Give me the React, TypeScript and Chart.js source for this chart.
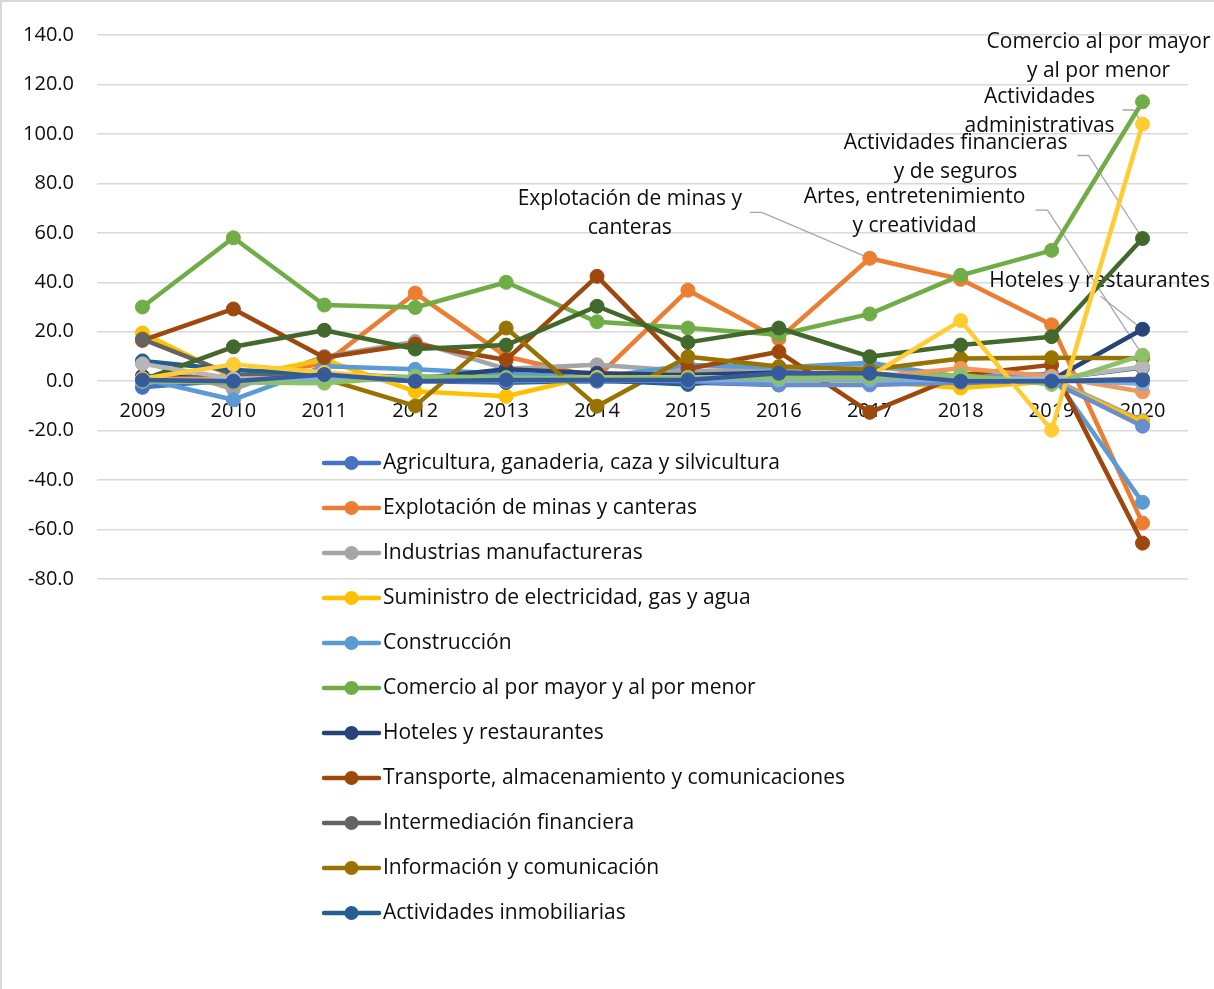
import { useEffect, useRef } from "react";
import { Chart, registerables } from "chart.js";

Chart.register(...registerables);

const FONT = "'Open Sans', Lato, sans-serif";
const TEXT_SIZE = 21;
const TICK_SIZE = 20;
const INK = "#0d0d0d";

// Years on the category axis
const years = ["2009", "2010", "2011", "2012", "2013", "2014", "2015", "2016", "2017", "2018", "2019", "2020"];

// Y axis range and step
const yMin = -80;
const yMax = 140;
const yStep = 20;

// Annual variation (%) by economic activity
const agricultura = [-2.5, 0.5, 1.5, 0, -0.5, 0, -0.5, -1.5, -1, -1, -0.5, -17];
const explotacion = [1, 2, 7, 35.6, 10, 1.5, 36.8, 17.1, 49.7, 41.2, 22.8, -57.4];
const industrias = [8, -3.3, 10, 16, 5, 6.6, 4, 5, 6, 2, 1, -16];
const suministro = [19.5, 1.5, 8.7, -4.1, -6.1, 2.5, 1, 0.5, 0, -2.8, 0, -16.5];
const construccion = [1, -7.5, 6, 4.8, 3, 1.5, 6.5, 5.5, 7.5, 1.5, 3, -49];
const comercio = [30, 58, 30.8, 29.8, 40, 24, 21.5, 18.8, 27.2, 42.8, 52.9, 113];
const hoteles = [2, 1, 2, 1, 4.8, 3.2, 2.5, 3.5, 3, 1, 0.5, 21];
const transporte = [16.5, 29.2, 9.6, 15, 8.6, 42.4, 5, 11.9, -12.6, 2.5, 6.6, -65.5];
const intermediacion = [17, 2.5, 2, 1, 1, 1, 1, 1.5, 1.5, 0.5, 0, 1];
const informacion = [0, -0.5, 1, -10, 21.5, -10.1, 9.9, 5.9, 4.6, 9.2, 9.5, 9.3];
const inmobiliarias = [8.2, 4.5, 3, 1.5, -0.5, 0.5, -1.3, 2.5, 2, 0, 1, 5.5];
const financieras = [0.5, 13.9, 20.6, 13, 14.6, 30.3, 15.7, 21.5, 9.9, 14.6, 18, 57.7];
const profesionales = [0, 0.5, 1, 0.5, 0, 0.5, 0, -1.5, -1.5, -0.5, 0, -18.2];
const adminPublica = [1, 1, 1.5, 1, 1, 1, 1.5, 1, 1.5, 5.2, 2, -4.3];
const ensenanza = [7, 1, 1.5, 1.5, 1, 1, 1.5, 1.5, 1, 1, 1, 5.8];
const administrativas = [1, 6.8, 3.5, 1, 1, 1.5, 1.5, 1, 2, 24.5, -19.8, 104];
const salud = [0, 0, 1, 0.5, 0.5, 0.5, 0.5, 0.5, 0.5, 0.5, 0.5, -1];
const artes = [0, -0.5, -0.8, 2, 1.5, 1, 1.5, 1.2, 1.5, 2.5, -1.3, 10.5];
const otros = [0.5, 0, 2.7, 0, 0.5, 0.5, 0.5, 3.2, 3.2, 0, 0, 0.5];

// Series names, in drawing order
const seriesNames = [
  "Agricultura, ganaderia, caza y silvicultura",
  "Explotación de minas y canteras",
  "Industrias manufactureras",
  "Suministro de electricidad, gas y agua",
  "Construcción",
  "Comercio al por mayor y al por menor",
  "Hoteles y restaurantes",
  "Transporte, almacenamiento y comunicaciones",
  "Intermediación financiera",
  "Información y comunicación",
  "Actividades inmobiliarias",
  "Actividades financieras y de seguros",
  "Actividades profesionales",
  "Administración pública",
  "Enseñanza",
  "Actividades administrativas",
  "Salud",
  "Artes, entretenimiento y creatividad",
  "Otras actividades de servicios",
];

const seriesValues = [
  agricultura, explotacion, industrias, suministro, construccion, comercio,
  hoteles, transporte, intermediacion, informacion, inmobiliarias, financieras,
  profesionales, adminPublica, ensenanza, administrativas, salud, artes, otros,
];

const seriesColors = [
  "#4472C4", "#ED7D31", "#A5A5A5", "#FFC000", "#5B9BD5", "#70AD47",
  "#264478", "#9E480E", "#636363", "#997300", "#255E91", "#43682B",
  "#698ED0", "#F1975A", "#B7B7B7", "#FFCD33", "#7CAFDD", "#8CC168",
  "#365B9D",
];

// How many series are listed in the legend box
const legendCount = 11;

// Series-name callouts: text lines, offset of first line from the point, leader polyline
const callouts = [
  { series: "Comercio al por mayor y al por menor", year: "2020", lines: ["Comercio al por mayor", "y al por menor"], dx: -44, dy: -60, leader: null },
  { series: "Actividades administrativas", year: "2020", lines: ["Actividades", "administrativas"], dx: -103, dy: -27, leader: [[-20, -14], [-9, -14]] },
  { series: "Actividades financieras y de seguros", year: "2020", lines: ["Actividades financieras", "y de seguros"], dx: -187, dy: -95, leader: [[-65, -83], [-54, -83]] },
  { series: "Artes, entretenimiento y creatividad", year: "2020", lines: ["Artes, entretenimiento", "y creatividad"], dx: -228, dy: -158, leader: [[-107, -145], [-95, -145]] },
  { series: "Hoteles y restaurantes", year: "2020", lines: ["Hoteles y restaurantes"], dx: -43, dy: -48, leader: [[-42, -33]] },
  { series: "Explotación de minas y canteras", year: "2017", lines: ["Explotación de minas y", "canteras"], dx: -240, dy: -59, leader: [[-120, -46], [-108, -46]] },
];

const calloutPlugin = {
  id: "calloutPlugin",
  beforeDatasetsDraw(chart: any) {
    const ctx = chart.ctx;
    ctx.save();
    ctx.font = `${TEXT_SIZE}px ${FONT}`;
    ctx.textAlign = "center";
    ctx.textBaseline = "middle";
    for (const c of callouts) {
      const di = seriesNames.indexOf(c.series);
      const pi = years.indexOf(c.year);
      const pt = chart.getDatasetMeta(di).data[pi];
      if (!pt) continue;
      const px = pt.x;
      const py = pt.y;
      if (c.leader) {
        ctx.strokeStyle = "#A6A6A6";
        ctx.lineWidth = 1.3;
        ctx.beginPath();
        c.leader.forEach((p, k) => {
          if (k === 0) ctx.moveTo(px + p[0], py + p[1]);
          else ctx.lineTo(px + p[0], py + p[1]);
        });
        ctx.lineTo(px, py);
        ctx.stroke();
      }
      ctx.fillStyle = INK;
      c.lines.forEach((t, k) => ctx.fillText(t, px + c.dx, py + c.dy + k * 29));
    }
    ctx.restore();
  },
};

const legendBoxPlugin = {
  id: "legendBoxPlugin",
  afterDraw(chart: any) {
    const ctx = chart.ctx;
    const x0 = 324;
    const y0 = 463;
    const rowH = 45;
    ctx.save();
    ctx.font = `${TEXT_SIZE}px ${FONT}`;
    ctx.textAlign = "left";
    ctx.textBaseline = "middle";
    for (let i = 0; i < legendCount; i++) {
      const y = y0 + i * rowH;
      const color = seriesColors[i];
      ctx.strokeStyle = color;
      ctx.lineWidth = 4.5;
      ctx.lineCap = "round";
      ctx.beginPath();
      ctx.moveTo(x0, y);
      ctx.lineTo(x0 + 55, y);
      ctx.stroke();
      ctx.fillStyle = color;
      ctx.beginPath();
      ctx.arc(x0 + 27.5, y, 7, 0, Math.PI * 2);
      ctx.fill();
      ctx.fillStyle = INK;
      ctx.fillText(seriesNames[i], x0 + 59, y);
    }
    ctx.restore();
  },
};

export default function App() {
  const canvasRef = useRef<HTMLCanvasElement | null>(null);

  useEffect(() => {
    if (!canvasRef.current) return;
    const n = seriesNames.length;
    const chart = new Chart(canvasRef.current, {
      type: "line",
      data: {
        labels: years,
        datasets: seriesNames.map((name, i) => ({
          label: name,
          data: seriesValues[i],
          borderColor: seriesColors[i],
          backgroundColor: seriesColors[i],
          pointBackgroundColor: seriesColors[i],
          pointBorderColor: seriesColors[i],
          borderWidth: 4.5,
          pointRadius: 7,
          pointBorderWidth: 1,
          borderJoinStyle: "round" as const,
          borderCapStyle: "round" as const,
          tension: 0,
          fill: false,
          order: n - i,
        })),
      },
      options: {
        responsive: false,
        animation: false,
        events: [],
        layout: { padding: { top: 31, right: 26, bottom: 410, left: 0 } },
        plugins: {
          legend: { display: false },
          tooltip: { enabled: false },
          title: { display: false },
        },
        scales: {
          x: {
            type: "category",
            position: { y: 0 } as any,
            offset: true,
            z: 1,
            grid: { display: false, drawTicks: false },
            border: { display: false },
            ticks: {
              color: INK,
              font: { family: FONT, size: TICK_SIZE },
              padding: 18,
              maxRotation: 0,
              autoSkip: false,
            },
          },
          y: {
            min: yMin,
            max: yMax,
            grid: { color: "#D9D9D9", lineWidth: 1.5, drawTicks: false },
            border: { display: false },
            ticks: {
              stepSize: yStep,
              color: INK,
              font: { family: FONT, size: TICK_SIZE },
              padding: 23,
              callback: (v: any) => Number(v).toFixed(1),
            },
            afterFit: (s: any) => {
              s.width = 97;
            },
          },
        },
      },
      plugins: [calloutPlugin, legendBoxPlugin],
    });
    return () => chart.destroy();
  }, []);

  return (
    <div
      style={{
        position: "absolute",
        left: 0,
        top: 0,
        width: 1214,
        height: 989,
        overflow: "hidden",
        background: "#ffffff",
      }}
    >
      <div
        style={{
          position: "absolute",
          left: 0,
          top: 0,
          width: 1240,
          height: 1020,
          border: "2px solid #D9D9D9",
          boxSizing: "border-box",
        }}
      />
      <canvas
        ref={canvasRef}
        width={1214}
        height={989}
        style={{ position: "absolute", left: 0, top: 0 }}
      />
    </div>
  );
}
